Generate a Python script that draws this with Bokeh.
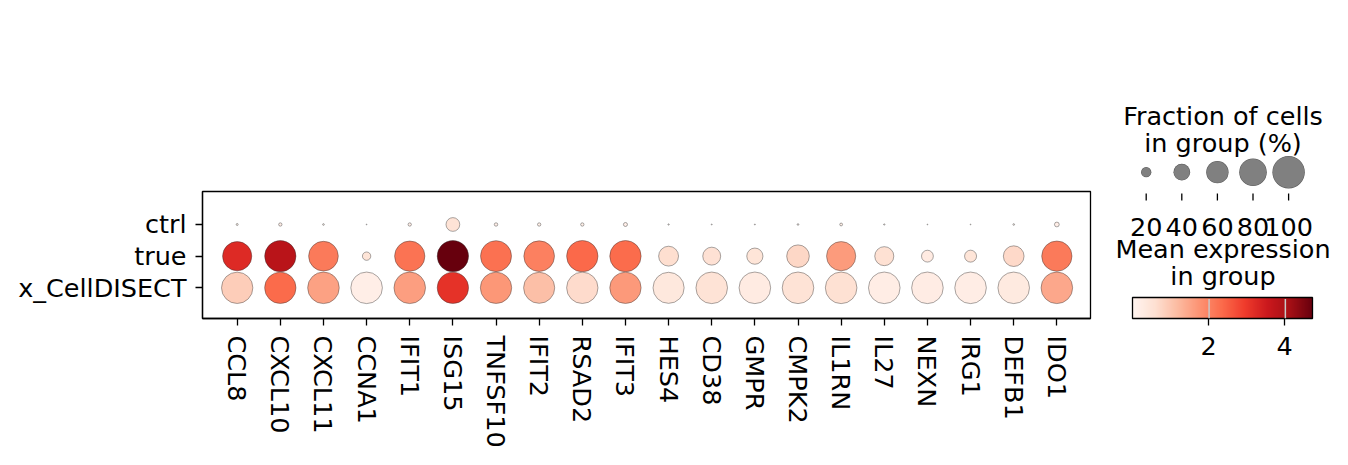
import numpy as np
from bokeh.plotting import figure
from bokeh.models import (Range1d, LinearColorMapper, ColumnDataSource, ColorBar, FixedTicker)
from bokeh.transform import transform
from bokeh.core.properties import value
from bokeh.embed import file_html
from bokeh.resources import INLINE

# ---------------- data ----------------
genes = ["CCL8", "CXCL10", "CXCL11", "CCNA1", "IFIT1", "ISG15", "TNFSF10", "IFIT2",
         "RSAD2", "IFIT3", "HES4", "CD38", "GMPR", "CMPK2", "IL1RN", "IL27", "NEXN",
         "IRG1", "DEFB1", "IDO1"]
groups = ["ctrl", "true", "x_CellDISECT"]

# fraction of cells expressing (%)
frac_ctrl = [2.5, 5, 2, 0.8, 5, 33, 5.2, 5, 5, 6.4, 1.5, 1, 1, 2, 4, 1.5, 0.8, 0.8, 2, 8]
frac_true = [90, 98.7, 92, 17, 94.5, 99, 97.5, 96, 99, 99, 54, 47, 41, 64, 90, 51, 27, 27.5, 57, 94.5]
frac_xcd = [99, 99, 100, 100, 100, 99, 99, 98, 99, 99, 98, 100, 100, 100, 100, 100, 100, 100, 100, 100]

# mean expression in group
expr_ctrl = [0.1, 0.2, 0.1, 0.0, 0.2, 0.52, 0.2, 0.15, 0.15, 0.2, 0.05, 0.05, 0.03, 0.1, 0.15, 0.05, 0.02, 0.02, 0.1, 0.2]
expr_true = [3.24, 3.81, 2.13, 0.47, 2.23, 4.73, 2.27, 2.04, 2.37, 2.34, 0.62, 0.57, 0.48, 0.75, 1.65, 0.59, 0.28, 0.47, 0.71, 2.13]
expr_xcd = [0.9, 2.36, 1.56, 0.19, 1.6, 3.11, 1.71, 1.11, 0.67, 1.68, 0.38, 0.52, 0.28, 0.52, 0.59, 0.24, 0.25, 0.24, 0.33, 1.47]

size_legend_values = [20, 40, 60, 80, 100]
colorbar_ticks = [2, 4]

# ---------------- styling helpers ----------------
FONT = "DejaVu Sans"
FS = "25.5px"
MAX_DIAM = 31.6          # pixel diameter for 100 %
SIZE_EXP = 1.5           # scanpy size exponent (area ~ frac**1.5)

reds9 = ["#fff5f0", "#fee0d2", "#fcbba1", "#fc9272", "#fb6a4a", "#ef3b2c", "#cb181d", "#a50f15", "#67000d"]


def interp_palette(stops, n=256):
    rgb = np.array([[int(c[i:i + 2], 16) for i in (1, 3, 5)] for c in stops], float)
    pos = np.linspace(0, 1, len(stops))
    t = np.linspace(0, 1, n)
    out = []
    for tt in t:
        r = np.interp(tt, pos, rgb[:, 0]); g = np.interp(tt, pos, rgb[:, 1]); b = np.interp(tt, pos, rgb[:, 2])
        out.append("#%02x%02x%02x" % (int(round(r)), int(round(g)), int(round(b))))
    return out


palette = interp_palette(reds9)
all_expr = expr_ctrl + expr_true + expr_xcd
vmin, vmax = min(all_expr), max(all_expr)
mapper = LinearColorMapper(palette=palette, low=vmin, high=vmax)


def diam(frac):
    f = np.asarray(frac, float) / 100.0
    return MAX_DIAM * np.sqrt(f ** SIZE_EXP)


gene_pos = list(range(len(genes)))
group_pos = list(range(len(groups)))
xs, ys, fr, ex = [], [], [], []
for gi, fl, el in zip(group_pos, [frac_ctrl, frac_true, frac_xcd], [expr_ctrl, expr_true, expr_xcd]):
    xs += gene_pos
    ys += [gi] * len(genes)
    fr += fl
    ex += el
src = ColumnDataSource(dict(x=xs, y=ys, frac=fr, expr=ex, size=diam(fr)))

# ---------------- main dot plot ----------------
W, H = 1348, 465
FL, FR, FT, FB = 202, 1090, 191, 318   # frame edges in window pixels
p = figure(width=W, height=H,
           x_range=Range1d(-0.804, len(genes) - 1 + 0.78),
           y_range=Range1d(len(groups) - 1 + 0.969, -1.042),
           output_backend="svg", toolbar_location=None,
           min_border_left=FL, min_border_right=W - FR, min_border_top=FT, min_border_bottom=H - FB)
# pixel-like helper ranges for the side legend
p.extra_x_ranges = {"px": Range1d(FL, FR)}
p.extra_y_ranges = {"px": Range1d(FB, FT)}

p.scatter(x="x", y="y", size="size", source=src,
          fill_color=transform("expr", mapper), line_color="#333333", line_width=0.5, line_alpha=0.85)

p.grid.visible = False
p.outline_line_color = "black"
p.outline_line_width = 1.3
p.outline_line_alpha = 1.0
p.xaxis.ticker = FixedTicker(ticks=gene_pos)
p.xaxis.major_label_overrides = {i: g for i, g in zip(gene_pos, genes)}
p.yaxis.ticker = FixedTicker(ticks=group_pos)
p.yaxis.major_label_overrides = {i: g for i, g in zip(group_pos, groups)}
for ax in (p.xaxis[0], p.yaxis[0]):
    ax.major_label_text_font = FONT
    ax.major_label_text_font_size = FS
    ax.major_label_text_color = "black"
    ax.major_tick_out = 7
    ax.major_tick_in = 0
    ax.major_tick_line_width = 1.3
    ax.major_tick_line_color = "black"
    ax.axis_line_width = 1.3
    ax.axis_line_color = "black"
    ax.minor_tick_line_color = None
p.xaxis.major_label_orientation = "vertical"
p.xaxis.major_label_standoff = 10
p.yaxis.major_label_standoff = 9

# ---------------- side legend (overlay-level glyphs, not clipped to the frame) ----------------
OV = dict(level="overlay", x_range_name="px", y_range_name="px")
TXT = dict(text_font=value(FONT), text_font_size=value(FS), text_color="black",
           text_align="center", text_baseline="alphabetic")

cx = 1222.5
p.text(x=[cx, cx, cx, cx], y=[115, 142, 248, 275],
       text=["Fraction of cells", "in group (%)", "Mean expression", "in group"], **TXT, **OV)

leg_x = [1145.7 + 35.6 * i for i in range(len(size_legend_values))]
n_leg = len(size_legend_values)
leg_d = diam(size_legend_values)
dot_src = ColumnDataSource(dict(x0=leg_x, x1=[x + 0.01 for x in leg_x], y=[171.7] * n_leg,
                                w_edge=leg_d + 0.8, w_fill=leg_d - 0.2))
# size-legend dots: round-capped zero-length strokes (outline stroke, then fill stroke)
p.segment(x0="x0", x1="x1", y0="y", y1="y", line_width="w_edge", line_color="#5a5a5a",
          line_cap="round", source=dot_src, **OV)
p.segment(x0="x0", x1="x1", y0="y", y1="y", line_width="w_fill", line_color="#808080",
          line_cap="round", source=dot_src, **OV)
p.segment(x0=leg_x, x1=leg_x, y0=[193] * n_leg, y1=[200] * n_leg, line_color="black", line_width=1.3, **OV)
p.text(x=leg_x, y=[226.5] * n_leg, text=[str(v) for v in size_legend_values], **TXT, **OV)

# colour bar
cb_x0, cb_x1, cb_top, cb_bot = 1132.3, 1312.7, 297.3, 319.0
cb = ColorBar(color_mapper=mapper, orientation="horizontal",
              location=(int(cb_x0 - FL), -39), width=int(cb_x1 - cb_x0), height=int(cb_bot - cb_top),
              padding=0, margin=0, ticker=FixedTicker(ticks=colorbar_ticks),
              major_tick_in=0, major_tick_out=7, major_tick_line_color="black", major_tick_line_width=1.3,
              bar_line_color="black", bar_line_width=1.3, label_standoff=11,
              major_label_text_font=FONT, major_label_text_font_size=FS, major_label_text_color="black",
              background_fill_color=None, border_line_color=None)
p.add_layout(cb)
scale = (cb_x1 - cb_x0) / (vmax - vmin)
tick_x = [cb_x0 + (t - vmin) * scale for t in colorbar_ticks]
p.segment(x0=tick_x, x1=tick_x, y0=[cb_top + 1.2] * len(tick_x), y1=[cb_bot - 1.2] * len(tick_x),
          line_color="#c8c8c8", line_width=1.5, **OV)

open("out.html", "w").write(file_html(p, INLINE))
